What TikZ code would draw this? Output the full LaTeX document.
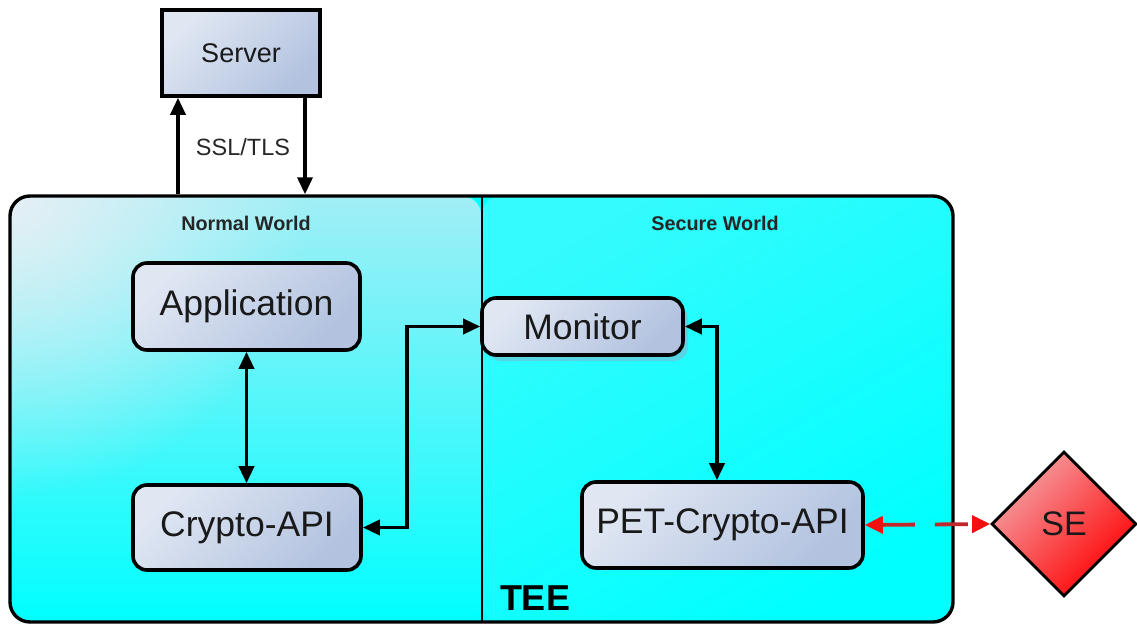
\documentclass[tikz,border=0pt]{standalone}
\usepackage{fontspec}
\setmainfont{Liberation Sans}
\usetikzlibrary{arrows.meta,shapes.geometric,shadows,fadings}

\definecolor{boxlight}{HTML}{E0E7F3}
\definecolor{boxdark}{HTML}{B2C2DF}
\definecolor{nwlight}{HTML}{E6F0F5}
\definecolor{nwtop}{HTML}{A2EEF6}
\definecolor{nwmid}{HTML}{6EF6FA}
\definecolor{swlight}{HTML}{34FBFD}
\definecolor{teecyan}{HTML}{00FFFF}
\definecolor{seamline}{HTML}{60D8EA}
\definecolor{selight}{HTML}{F4A2A6}
\definecolor{sered}{HTML}{FF0000}
\definecolor{linkred}{HTML}{C0282C}
\definecolor{tipred}{HTML}{F21010}
\definecolor{monshadow}{HTML}{58D4E4}

\tikzfading[name=cornerglow, inner color=transparent!0, outer color=transparent!100]

\begin{document}
\begin{tikzpicture}[x=1pt,y=1pt,
  >={Triangle[length=17pt,width=15pt]},
  comp/.style={draw=black, line width=3.6pt, rounded corners=14pt,
    top color=boxlight, bottom color=boxdark, shading angle=45,
    inner sep=0pt, font=\fontsize{35.5}{40}\selectfont, text=black!90},
  link/.style={line width=3.6pt, <->},
  oneway/.style={line width=3.6pt, ->},
  worldlabel/.style={font=\bfseries\fontsize{19.8}{22}\selectfont, text=black!85},
]
\useasboundingbox (0,0) rectangle (1137,-626);

% the TEE container with its two worlds
\node[draw=black, line width=3.4pt, rounded corners=20pt, fill=teecyan,
      minimum width=943pt, minimum height=426pt, inner sep=0pt,
      path picture={
        \shade[top color=nwtop, middle color=nwmid, bottom color=teecyan]
          (path picture bounding box.south west) rectangle (path picture bounding box.north);
        \fill[nwlight, path fading=cornerglow]
          (path picture bounding box.north west) circle (300pt);
        \shade[top color=swlight, middle color=teecyan, bottom color=teecyan, shading angle=30]
          (path picture bounding box.south) rectangle (path picture bounding box.north east);
        \draw[seamline, line width=1.5pt, opacity=0.5]
          ([xshift=8pt]path picture bounding box.north) -- ([xshift=8pt]path picture bounding box.south);
        \draw[black, line width=2pt]
          ([xshift=0.5pt]path picture bounding box.north) -- ([xshift=0.5pt]path picture bounding box.south);
      }] (tee) at (481.5,-409) {};

\node[worldlabel] (nw) at (246,-223) {Normal World};
\node[worldlabel] (sw) at (715,-223) {Secure World};
\node[font=\bfseries\fontsize{36}{40}\selectfont] (teelabel) at (535,-598) {TEE};

% components
\node[comp, rounded corners=0pt, minimum width=158pt, minimum height=86pt,
      font=\fontsize{27}{30}\selectfont] (server) at (241,-53) {Server};
\node[comp, minimum width=227pt, minimum height=87pt] (app) at (246.5,-306.5) {Application};
\node[comp, minimum width=228pt, minimum height=85pt] (crypto) at (247,-527.5) {Crypto-API};
\node[comp, minimum width=201pt, minimum height=57pt,
      drop shadow={shadow xshift=5pt, shadow yshift=-6pt, fill=monshadow, opacity=1}]
      (mon) at (582.5,-326.5) {Monitor};
\node[comp, minimum width=281pt, minimum height=86pt] (pet) at (722.5,-525) {PET-Crypto-API};
\node[diamond, aspect=1, draw=black, line width=2.8pt, inner sep=0pt,
      minimum width=145pt, minimum height=145pt,
      top color=selight, bottom color=sered, shading angle=45,
      font=\fontsize{34}{38}\selectfont, text=black!90] (se) at (1064,-524) {SE};

% server link
\node[font=\fontsize{23.5}{26}\selectfont, text=black!85] (ssl) at (243,-147) {SSL/TLS};
\draw[oneway] ([xshift=-63pt]server.south |- tee.north) -- ([xshift=-63pt]server.south);
\draw[oneway] ([xshift=64pt]server.south) -- ([xshift=64pt]server.south |- tee.north);

% internal connectors
\draw[link] (app.south) -- (app.south |- crypto.north);
\draw[link] (crypto.east) -- ++(44pt,0) |- (mon.west);
\draw[link] (mon.east) -| ([xshift=-5.5pt]pet.north);

% secure element link
\draw[line width=3.8pt, linkred, dash pattern=on 33pt off 20pt,
      arrows={Triangle[length=18pt,width=17pt,color=tipred]-Triangle[length=18pt,width=17pt,color=tipred]}]
  (pet.east) -- (se.west);
\end{tikzpicture}
\end{document}
